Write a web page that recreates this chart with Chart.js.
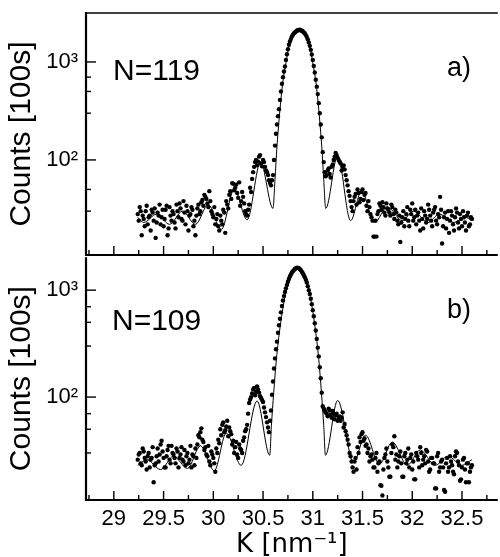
<!DOCTYPE html>
<html><head><meta charset="utf-8">
<script src="https://cdn.jsdelivr.net/npm/chart.js@4.4.1/dist/chart.umd.min.js"></script>
<style>
html,body{margin:0;padding:0;background:#fff;}
#wrap{position:relative;width:500px;height:557px;overflow:hidden;background:#fff;}
canvas{position:absolute;left:0;}
#ca{top:0;}
#cb{top:255px;}
</style></head><body>
<div id="wrap"><canvas id="ca" width="500" height="258"></canvas><canvas id="cb" width="500" height="302"></canvas></div>
<script>
// K grid [nm^-1] of the measured points (shared by both panels): even and odd samples
const K = [29.24,29.26,29.28,29.30,29.32,29.34,29.36,29.38,29.40,29.42,29.44,29.46,29.48,29.50,29.52,29.54,29.56,29.58,29.60,29.62,29.64,29.66,29.68,29.70,29.72,29.74,29.76,29.78,29.80,29.82,29.84,29.86,29.88,29.90,29.92,29.94,29.96,29.98,30.00,30.02,30.04,30.06,30.08,30.10,30.12,30.14,30.16,30.18,30.20,30.22,30.24,30.26,30.28,30.30,30.32,30.34,30.36,30.38,30.40,30.42,30.44,30.46,30.48,30.50,30.52,30.54,30.56,30.58,30.60,30.62,30.64,30.66,30.68,30.70,30.72,30.74,30.76,30.78,30.80,30.82,30.84,30.86,30.88,30.90,30.92,30.94,30.96,30.98,31.00,31.02,31.04,31.06,31.08,31.10,31.12,31.14,31.16,31.18,31.20,31.22,31.24,31.26,31.28,31.30,31.32,31.34,31.36,31.38,31.40,31.42,31.44,31.46,31.48,31.50,31.52,31.54,31.56,31.58,31.60,31.62,31.64,31.66,31.68,31.70,31.72,31.74,31.76,31.78,31.80,31.82,31.84,31.86,31.88,31.90,31.92,31.94,31.96,31.98,32.00,32.02,32.04,32.06,32.08,32.10,32.12,32.14,32.16,32.18,32.20,32.22,32.24,32.26,32.28,32.30,32.32,32.34,32.36,32.38,32.40,32.42,32.44,32.46,32.48,32.50,32.52,32.54,32.56,32.58,32.60];
const K2 = [29.25,29.27,29.29,29.31,29.33,29.35,29.37,29.39,29.41,29.43,29.45,29.47,29.49,29.51,29.53,29.55,29.57,29.59,29.61,29.63,29.65,29.67,29.69,29.71,29.73,29.75,29.77,29.79,29.81,29.83,29.85,29.87,29.89,29.91,29.93,29.95,29.97,29.99,30.01,30.03,30.05,30.07,30.09,30.11,30.13,30.15,30.17,30.19,30.21,30.23,30.25,30.27,30.29,30.31,30.33,30.35,30.37,30.39,30.41,30.43,30.45,30.47,30.49,30.51,30.53,30.55,30.57,30.59,30.61,30.63,30.65,30.67,30.69,30.71,30.73,30.75,30.77,30.79,30.81,30.83,30.85,30.87,30.89,30.91,30.93,30.95,30.97,30.99,31.01,31.03,31.05,31.07,31.09,31.11,31.13,31.15,31.17,31.19,31.21,31.23,31.25,31.27,31.29,31.31,31.33,31.35,31.37,31.39,31.41,31.43,31.45,31.47,31.49,31.51,31.53,31.55,31.57,31.59,31.61,31.63,31.65,31.67,31.69,31.71,31.73,31.75,31.77,31.79,31.81,31.83,31.85,31.87,31.89,31.91,31.93,31.95,31.97,31.99,32.01,32.03,32.05,32.07,32.09,32.11,32.13,32.15,32.17,32.19,32.21,32.23,32.25,32.27,32.29,32.31,32.33,32.35,32.37,32.39,32.41,32.43,32.45,32.47,32.49,32.51,32.53,32.55,32.57,32.59];

// Panel a) N=119 measured counts (at K and at K2)
const countsA = [28,33,17,25,30,22,27,31,24,16,
29,35,26,21,31,17,33,24,28,20,
30,36,25,38,22,30,27,33,21,17,
32,28,37,34,42,36,48,30,26,22,
28,19,24,31,18,35,44,40,57,52,
46,59,38,42,30,27,35,47,75,95,
88,108,92,100,85,75,62,55,70,140,
230,330,500,700,900,1200,1500,1720,1900,2000,
2080,2120,2100,2050,1950,1800,1580,1330,1050,780,
560,380,230,120,75,70,82,66,90,108,
112,100,92,85,80,62,48,38,30,42,
35,46,40,50,44,34,38,28,24,16.5,
16.5,30,34,37,29,36,31,27,33,25,
29,22,14.5,26,21,28,24,31,36,26,
22,29,19,25,30,23,35,27,21,31,
24,28,42,14,26,20,30,24,27,19,
32,23,28,21,26,19,29,22,25];
const countsA2 = [24,30,27,21,34,26,19,29,32,23,
27,22,31,25,34,20,27,30,23,35,
26,32,24,29,34,19,28,31,24,27,
35,30,39,44,40,33,38,28,33,25,
21,27,22,29,38,32,48,58,49,56,
41,34,47,36,28,31,52,64,85,100,
96,112,86,95,78,70,58,62,100,185,
280,410,600,800,1050,1350,1620,1820,1960,2050,
2110,2130,2080,2000,1880,1700,1460,1190,910,660,
470,300,170,95,68,78,72,85,100,118,
105,96,78,88,70,55,43,33,38,45,
50,37,47,39,46,30,33,26,16.5,24,
28,36,31,33,27,32,29,35,28,31,
24,27,23,30,25,33,21,28,24,31,
27,24,32,20,27,25,31,24,29,33,
22,26,31,21,29,25,18,30,22,26,
29,20,25,30,23,27,21,26];

// Panel b) N=109 measured counts (at K and at K2)
const countsB = [26,30,23,31,25,28,22,27,16,24,
33,29,39,27,22,32,26,35,29,24,
31,27,34,25,23,30,26,22,28,33,
36,42,51,38,34,28,25,31,27,20,
30,37,44,58,49,60,52,45,39,34,
29,36,32,39,48,55,88,100,118,104,
126,110,98,90,72,58,47,75,140,230,
330,470,620,800,960,1120,1270,1400,1500,1580,
1620,1600,1540,1440,1320,1180,1000,830,650,490,
350,240,150,82,75,70,78,68,74,62,
70,65,60,72,56,44,36,28,22,25,
21,30,38,47,41,36,33,28,26,22,
30,24,15,12,27,33,22,18,36,43,
29,25,31,18,28,24,33,27,21,17,
30,26,34,23,28,32,25,21,27,24,
14,30,22,26,13.5,24,20,28,23,19,
31,25,16.5,22,27,16,24,20,23];
const countsB2 = [29,24,33,27,21,30,26,34,23,28,
25,36,31,22,28,35,24,30,27,33,
22,29,26,32,28,24,35,29,23,27,
44,47,40,32,29,35,23,29,24,33,
40,50,55,47,53,43,48,36,30,38,
27,33,30,42,50,70,95,108,122,112,
118,102,94,80,65,52,60,105,185,280,
400,540,710,880,1040,1200,1340,1460,1540,1600,
1610,1570,1490,1380,1250,1090,920,740,570,420,
290,190,110,78,72,66,75,64,70,68,
60,66,64,52,48,40,30,25,20,27,
34,42,45,39,35,30,25,29,22,27,
20,25,14.8,21,29,25,18,30,34,26,
22,28,24,18,30,26,22,29,25,17,
28,22,30,26,24,31,20,27,24,14,
28,20,25,22,13,27,22,25,20,28,
30,23,17,26,21,24,16,22];

// Fit curves (solid lines)
const fitKA = [29.24,29.30,29.43,29.56,29.69,29.82,29.95,30.08,30.21,30.34,30.475,30.60,30.62,30.64,30.66,30.68,30.70,30.73,30.76,30.815,30.865,30.915,30.97,31.00,31.03,31.05,31.07,31.09,31.11,31.13,31.25,31.38,31.49,31.62,31.75,31.90,32.01,32.16,32.27,32.42,32.53,32.60];
const fitA  = [26,23,28,22,30,22,35,19.5,50,24.5,95,32,63,138,250,420,640,977,1446,1944,2100,1944,1446,977,640,420,250,138,63,32,110,24,48,23,33,24,30,23,28,23,26,24];
const fitKB = [29.24,29.33,29.47,29.60,29.74,29.87,30.01,30.13,30.28,30.44,30.567,30.584,30.607,30.634,30.672,30.727,30.787,30.847,30.907,30.967,31.022,31.06,31.087,31.11,31.127,31.25,31.41,31.53,31.67,31.80,31.95,32.08,32.23,32.36,32.50,32.60];
const fitB  = [23,26,21,28,21.5,35,20.5,46,23,92,28.6,54,110,225,457,935,1377,1590,1377,935,457,225,110,54,28.6,93,24.6,44,23.5,38,23,32,23,28,23,26];

// Axes
const xRange = [28.72, 32.86];
const xTickLabels = [29, 29.5, 30, 30.5, 31, 31.5, 32, 32.5];
const xMinorTicks = [28.75, 29.25, 29.75, 30.25, 30.75, 31.25, 31.75, 32.25, 32.75];
const yRangeA = [10.7, 3162];
const yRangeB = [10.9, 2033];
const yMajorTicks = [100, 1000];
const yTickText = {100: '10²', 1000: '10³'};
const yMinorTicksA = [30, 50, 300, 500, 700];
const yMinorTicksB = [30, 50, 70, 300, 500, 700];
const panelNames = ['N=119', 'N=109'];
const panelTags = ['a)', 'b)'];

const SANS = '"Liberation Sans", Arial, sans-serif';

function framePlugin(cfg) {
  return {
    id: 'frame',
    afterDraw(chart) {
      const ctx = chart.ctx, a = chart.chartArea;
      const xs = chart.scales.x, ys = chart.scales.y;
      ctx.save();
      ctx.strokeStyle = '#000';
      ctx.lineCap = 'butt';
      const seg = (x1, y1, x2, y2) => { ctx.beginPath(); ctx.moveTo(x1, y1); ctx.lineTo(x2, y2); ctx.stroke(); };
      ctx.lineWidth = 1.4;
      xTickLabels.forEach(v => { const p = xs.getPixelForValue(v); seg(p, a.bottom, p, a.bottom - 9); });
      xMinorTicks.forEach(v => { const p = xs.getPixelForValue(v); seg(p, a.bottom, p, a.bottom - 5); });
      yMajorTicks.forEach(v => { const p = ys.getPixelForValue(v); seg(a.left, p, a.left + 10, p); });
      cfg.minorY.forEach(v => { const p = ys.getPixelForValue(v); seg(a.left, p, a.left + 5, p); });
      // frame
      ctx.lineWidth = 2.2;
      seg(a.left, a.top - (cfg.top ? 1 : 0), a.left, a.bottom + 1);
      seg(a.left - 1, a.bottom, a.right, a.bottom);
      if (cfg.top) { ctx.lineWidth = 1.6; seg(a.left, a.top, a.right, a.top); }
      // annotations
      ctx.fillStyle = '#000';
      ctx.textBaseline = 'alphabetic';
      ctx.textAlign = 'left';
      ctx.font = '30px ' + SANS;
      ctx.fillText(cfg.name, cfg.nameX, cfg.nameY);
      ctx.font = '27px ' + SANS;
      ctx.fillText(cfg.tag, cfg.tagX, cfg.tagY);
      ctx.restore();
    }
  };
}

function makeChart(id, counts, counts2, fitK, fitV, yRange, cfg) {
  const pts = K.map((k, i) => ({x: k, y: counts[i]})).concat(K2.map((k, i) => ({x: k, y: counts2[i]})));
  const fit = fitK.map((k, i) => ({x: k, y: fitV[i]}));
  return new Chart(document.getElementById(id), {
    type: 'scatter',
    data: {datasets: [
      {data: fit, showLine: true, borderColor: '#000', borderWidth: 1, pointRadius: 0, cubicInterpolationMode: 'monotone', fill: false},
      {data: pts, showLine: false, pointRadius: 2.2, pointHoverRadius: 2.2, pointBackgroundColor: '#000', pointBorderColor: '#000', pointBorderWidth: 0}
    ]},
    options: {
      responsive: false, animation: false, devicePixelRatio: 1, events: [],
      layout: {padding: cfg.bottom ? {top: 0, left: 0, right: 0, bottom: 0} : {top: 13, left: 0, right: 0, bottom: 3}},
      plugins: {legend: {display: false}, tooltip: {enabled: false}},
      scales: {
        x: {
          type: 'linear', min: xRange[0], max: xRange[1], display: cfg.bottom,
          grid: {display: false, drawTicks: false}, border: {display: false},
          afterBuildTicks: s => { s.ticks = xTickLabels.map(v => ({value: v})); },
          afterFit: s => { s.height = cfg.bottom ? 57 : 0; s.paddingLeft = 0; s.paddingRight = 0; },
          ticks: {padding: 6, color: '#000', autoSkip: false, maxRotation: 0, font: {family: SANS, size: 22}, callback: v => String(v)},
          title: {display: true, text: 'K [nm⁻¹]', color: '#000', font: {family: '"DejaVu Sans", sans-serif', size: 26, lineHeight: 0.9}, padding: {top: 0, bottom: 0}}
        },
        y: {
          type: 'logarithmic', min: yRange[0], max: yRange[1],
          grid: {display: false, drawTicks: false}, border: {display: false},
          afterBuildTicks: s => { s.ticks = yMajorTicks.map(v => ({value: v})); },
          afterFit: s => { s.width = 86; s.paddingTop = 0; s.paddingBottom = 0; },
          ticks: {padding: 8, color: '#000', autoSkip: false, font: {family: SANS, size: 22}, callback: v => yTickText[v] || ''},
          title: {display: true, text: 'Counts [100s]', color: '#000', font: {family: SANS, size: 30}, padding: {top: 4, bottom: 0}}
        }
      }
    },
    plugins: [framePlugin(cfg)]
  });
}

makeChart('ca', countsA, countsA2, fitKA, fitA, yRangeA, {bottom: false, top: true, minorY: yMinorTicksA, name: panelNames[0], nameX: 113, nameY: 80, tag: panelTags[0], tagX: 447, tagY: 76});
makeChart('cb', countsB, countsB2, fitKB, fitB, yRangeB, {bottom: true, top: false, minorY: yMinorTicksB, name: panelNames[1], nameX: 112, nameY: 75, tag: panelTags[1], tagX: 447, tagY: 63});
</script>
</body></html>
